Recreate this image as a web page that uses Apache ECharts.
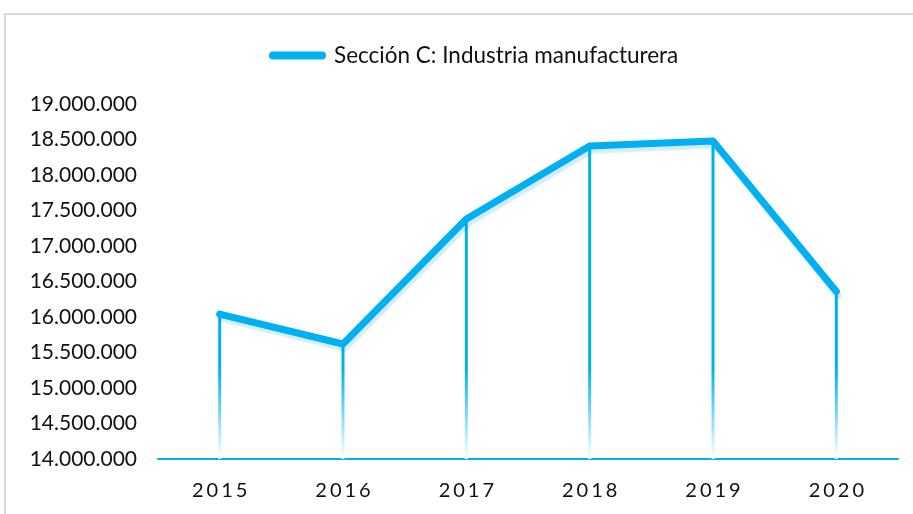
<!DOCTYPE html>
<html>
<head>
<meta charset="utf-8">
<script src="https://cdn.jsdelivr.net/npm/echarts@6/dist/echarts.min.js"></script>
<style>
  html, body { margin: 0; padding: 0; background: #fff; }
  #chart { width: 913px; height: 514px; }
</style>
</head>
<body>
<div id="chart"></div>
<script>
const years = ['2015', '2016', '2017', '2018', '2019', '2020'];
const seriesName = 'Sección C: Industria manufacturera';
const values = [16040000, 15620000, 17380000, 18410000, 18480000, 16360000];
const yMin = 14000000;
const yMax = 19000000;
const yStep = 500000;

const mainColor = '#00b0f0';

const chart = echarts.init(document.getElementById('chart'));

// miles con punto
const fmt = v => String(v).replace(/\B(?=(\d{3})+(?!\d))/g, '.');
// años con espacio entre letras
const spaced = v => v.split('').map(c => '{d|' + c + '}').join('');

const option = {
  animation: false,
  graphic: [{
    type: 'rect',
    shape: { x: 5, y: 14, width: 1000, height: 1000 },
    style: { fill: 'none', stroke: '#d9d9d9', lineWidth: 2 },
    silent: true
  }],
  legend: {
    data: [seriesName],
    top: 39,
    left: 264,
    icon: 'path://M4,0 H53 A4,4 0 0 1 53,8 H4 A4,4 0 0 1 4,0 Z',
    itemWidth: 57,
    itemHeight: 8,
    itemGap: 10,
    textStyle: { fontFamily: 'Lato', fontSize: 22.5, color: '#111', padding: [0, 0, 0, 3] }
  },
  grid: { left: 158, right: 15, top: 104, bottom: 55 },
  xAxis: {
    type: 'category',
    data: years,
    boundaryGap: true,
    axisLine: { lineStyle: { color: mainColor, width: 2 } },
    axisTick: { show: false },
    axisLabel: {
      interval: 0,
      margin: 22,
      formatter: spaced,
      rich: { d: { fontFamily: 'Lato', fontSize: 20, color: '#111', padding: [0, 1.5, 0, 1.5] } }
    }
  },
  yAxis: {
    type: 'value',
    min: yMin,
    max: yMax,
    interval: yStep,
    axisLine: { show: false },
    axisTick: { show: false },
    splitLine: { show: false },
    axisLabel: { margin: 21, fontFamily: 'Lato', fontSize: 21, color: '#111', formatter: fmt }
  },
  series: [
    {
      // lineas de caida
      type: 'bar',
      data: values,
      barWidth: 3,
      silent: true,
      z: 3,
      itemStyle: {
        color: new echarts.graphic.LinearGradient(0, 370, 0, 459, [
          { offset: 0, color: mainColor },
          { offset: 1, color: '#ffffff' }
        ], true)
      }
    },
    {
      name: seriesName,
      type: 'line',
      data: values,
      z: 5,
      symbol: 'none',
      itemStyle: { color: mainColor },
      lineStyle: {
        color: mainColor,
        width: 7,
        cap: 'round',
        join: 'round',
        shadowColor: 'rgba(0,150,230,0.18)',
        shadowBlur: 2,
        shadowOffsetX: 2,
        shadowOffsetY: 4
      }
    }
  ]
};

chart.setOption(option);
</script>
</body>
</html>
